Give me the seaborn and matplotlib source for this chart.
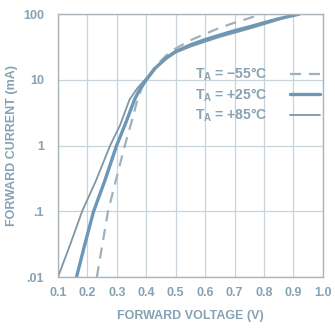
import numpy as np
import pandas as pd
import matplotlib
matplotlib.use("Agg")
import matplotlib.pyplot as plt
import seaborn as sns

# forward voltage (V) / forward current (mA)
v_m55 = [0.232, 0.25, 0.27, 0.297, 0.327, 0.35, 0.37, 0.385, 0.40, 0.43, 0.47, 0.5, 0.55, 0.6, 0.65, 0.7, 0.75, 0.79]
i_m55 = [0.01, 0.03, 0.1, 0.3, 1.0, 2.3, 5.0, 7.5, 10, 16, 24, 30, 40, 50, 62, 74, 87, 100]

v_p25 = [0.163, 0.19, 0.221, 0.26, 0.299, 0.33, 0.36, 0.38, 0.40, 0.43, 0.47, 0.5, 0.55, 0.6, 0.65, 0.7, 0.75, 0.8, 0.85, 0.92]
i_p25 = [0.01, 0.03, 0.1, 0.3, 1.0, 2.2, 5.0, 7.5, 10, 15, 22, 27, 34, 41, 48, 56, 64, 74, 85, 100]

v_p85 = [0.10, 0.14, 0.182, 0.23, 0.277, 0.31, 0.343, 0.37, 0.395, 0.43, 0.47, 0.5, 0.55, 0.6, 0.65, 0.7, 0.75, 0.8, 0.85, 0.91]
i_p85 = [0.01, 0.03, 0.1, 0.3, 1.0, 2.0, 5.0, 7.5, 10, 15, 21, 26, 32, 38, 45, 52, 60, 70, 82, 100]

series_labels = ["T$_\\mathregular{A}$ = \u221255\u00b0C", "T$_\\mathregular{A}$ = +25\u00b0C", "T$_\\mathregular{A}$ = +85\u00b0C"]
x_ticks = [0.1, 0.2, 0.3, 0.4, 0.5, 0.6, 0.7, 0.8, 0.9, 1.0]
x_ticklabels = ["0.1", "0.2", "0.3", "0.4", "0.5", "0.6", "0.7", "0.8", "0.9", "1.0"]
y_ticks = [0.01, 0.1, 1, 10, 100]
y_ticklabels = [".01", ".1", "1", "10", "100"]

txt = "#86a2b3"
grid_c = "#c9d3da"

sns.set_style("white")
plt.rcParams["font.family"] = ["Liberation Sans", "DejaVu Sans"]
plt.rcParams["font.weight"] = "bold"

fig = plt.figure(figsize=(3.35, 3.28), dpi=100)
ax = fig.add_axes([0.173, 0.155, 0.791, 0.802])

sns.lineplot(x=v_m55, y=i_m55, ax=ax, color="#9db1be", lw=1.6, sort=False,
             linestyle=(0, (5, 3.5)), label=series_labels[0])
sns.lineplot(x=v_p25, y=i_p25, ax=ax, color="#6b97b8", lw=2.4, sort=False, label=series_labels[1])
sns.lineplot(x=v_p85, y=i_p85, ax=ax, color="#7d97a8", lw=1.3, sort=False, label=series_labels[2])

ax.set_yscale("log")
ax.set_xlim(0.1, 1.0)
ax.set_ylim(0.01, 100)
ax.set_xticks(x_ticks)
ax.set_xticklabels(x_ticklabels)
ax.set_yticks(y_ticks)
ax.set_yticklabels(y_ticklabels)
ax.minorticks_off()
ax.grid(True, color=grid_c, lw=0.9)
for s in ax.spines.values():
    s.set_color("#a9b4bb")
    s.set_linewidth(1.0)
ax.tick_params(colors=txt, labelsize=9, length=0)
ax.tick_params(axis="x", pad=7)
ax.tick_params(axis="y", pad=10)
for lab in ax.get_xticklabels() + ax.get_yticklabels():
    lab.set_fontweight("bold")

ax.set_xlabel("FORWARD VOLTAGE (V)", color=txt, fontsize=9, fontweight="bold", labelpad=8)
ax.set_ylabel("FORWARD CURRENT (mA)", color=txt, fontsize=9, fontweight="bold", labelpad=4)

leg = ax.legend(loc="upper left", bbox_to_anchor=(0.47, 0.85), frameon=False, markerfirst=False,
                handlelength=2.2, handletextpad=1.6, labelspacing=0.2, fontsize=10)
for t in leg.get_texts():
    t.set_color(txt)
    t.set_fontweight("bold")

fig.savefig("out.png", dpi=100)
